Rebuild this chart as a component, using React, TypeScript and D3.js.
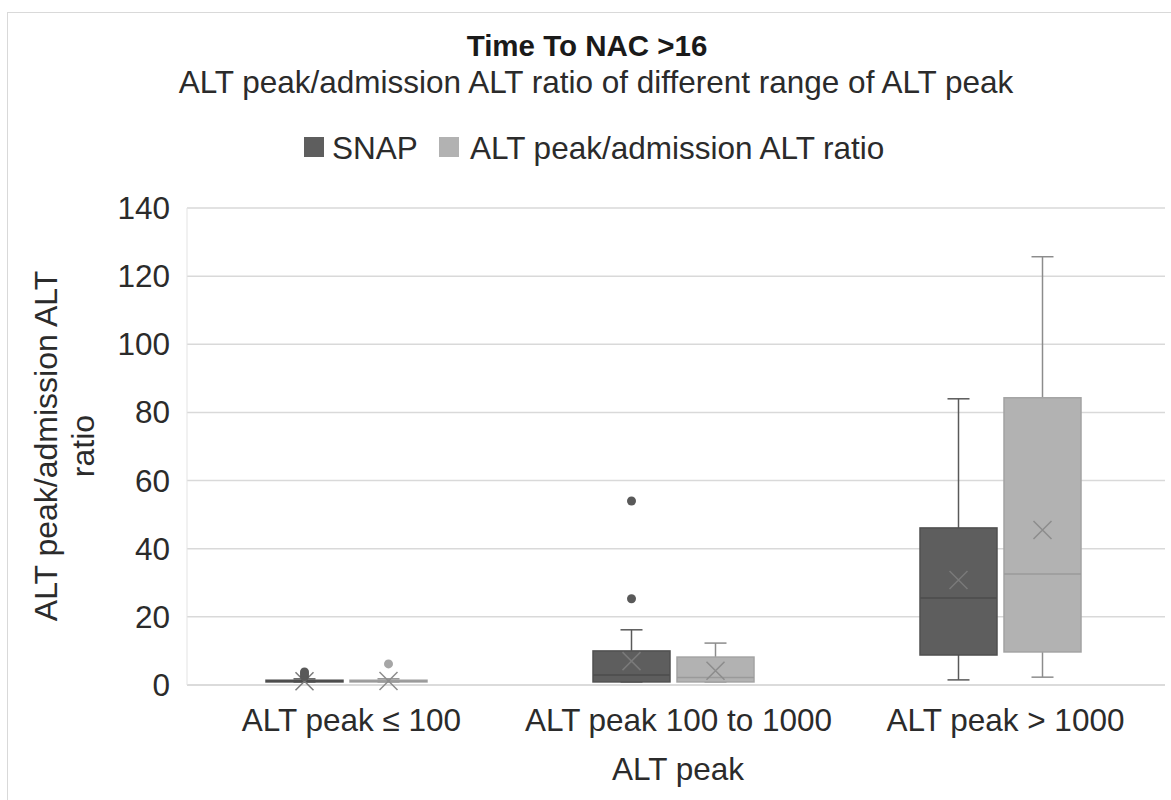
import React from "react";
import * as d3 from "d3";

const categories = ["ALT peak ≤ 100", "ALT peak 100 to 1000", "ALT peak > 1000"];
const seriesNames = ["SNAP", "ALT peak/admission ALT ratio"];
const yTicks = [0, 20, 40, 60, 80, 100, 120, 140];

const snapMin = [0.9, 0.9, 1.5];
const snapQ1 = [0.9, 0.9, 8.8];
const snapMedian = [1.1, 2.9, 25.5];
const snapQ3 = [1.4, 10.0, 46.1];
const snapMax = [1.8, 16.2, 84];
const snapMean = [1.1, 7.0, 30.8];
const snapOutliers = [[2.5, 3.2, 3.8], [25.3, 54], []];

const altMin = [0.9, 0.9, 2.3];
const altQ1 = [0.9, 0.9, 9.7];
const altMedian = [1.1, 2.2, 32.6];
const altQ3 = [1.4, 8.2, 84.3];
const altMax = [1.8, 12.3, 125.7];
const altMean = [1.2, 4.2, 45.5];
const altOutliers = [[6.2], [], []];

const W = 1171;
const H = 800;
const FONT = "'Liberation Sans', Arial, Helvetica, sans-serif";
const TXT = "#2b2b2b";

const seriesStyle = [
  { fill: "#5e5e5e", stroke: "#505050", whisker: "#595959", median: "#4c4c4c", mean: "#7a7a7a", dot: "#595959" },
  { fill: "#b2b2b2", stroke: "#a3a3a3", whisker: "#8c8c8c", median: "#9a9a9a", mean: "#8c8c8c", dot: "#a6a6a6" },
];

export default function App() {
  const y = d3.scaleLinear().domain([0, 140]).range([685, 208]);
  const x = d3.scaleBand<string>().domain(categories).range([183, 1164]).padding(0);
  const gridX0 = 187;
  const gridX1 = 1165;
  const boxW = 77;
  const offset = 42;
  const capW = 22;
  const meanR = 9;

  const series = [
    { min: snapMin, q1: snapQ1, med: snapMedian, q3: snapQ3, max: snapMax, mean: snapMean, out: snapOutliers },
    { min: altMin, q1: altQ1, med: altMedian, q3: altQ3, max: altMax, mean: altMean, out: altOutliers },
  ];

  return (
    <svg width={W} height={H} style={{ position: "absolute", left: 0, top: 0, background: "#fff" }} fontFamily={FONT}>
      <rect x={0} y={0} width={W} height={H} fill="#fff" />
      <rect x={7.5} y={12.5} width={W + 20} height={H + 20} fill="none" stroke="#d9d9d9" strokeWidth={1} />

      <text x={587} y={56} textAnchor="middle" fontSize={29.5} fontWeight="bold" fill="#1a1a1a">Time To NAC &gt;16</text>
      <text x={596} y={93} textAnchor="middle" fontSize={31.5} fill={TXT}>
        ALT peak/admission ALT ratio of different range of ALT peak
      </text>

      {/* legend */}
      <rect x={304} y={137} width={20} height={20} fill={seriesStyle[0].fill} />
      <text x={332} y={159} fontSize={31.5} fill={TXT}>{seriesNames[0]}</text>
      <rect x={439} y={137} width={20} height={20} fill={seriesStyle[1].fill} />
      <text x={470} y={159} fontSize={31.5} fill={TXT}>{seriesNames[1]}</text>

      {/* gridlines */}
      {yTicks.map((t) => (
        <line key={t} x1={gridX0} x2={gridX1} y1={y(t)} y2={y(t)} stroke={t === 0 ? "#cfcfcf" : "#d9d9d9"} strokeWidth={1.5} />
      ))}
      <line x1={gridX0} x2={gridX0} y1={y(140)} y2={y(0)} stroke="#e3e3e3" strokeWidth={1} />

      {/* y tick labels */}
      {yTicks.map((t) => (
        <text key={t} x={170} y={y(t) + 11} textAnchor="end" fontSize={31.5} fill={TXT}>{t}</text>
      ))}

      {/* y axis title */}
      <g transform="translate(57,446) rotate(-90)">
        <text x={0} y={0} textAnchor="middle" fontSize={32} fill={TXT}>ALT peak/admission ALT</text>
        <text x={0} y={37} textAnchor="middle" fontSize={32} fill={TXT}>ratio</text>
      </g>

      {/* x tick labels */}
      {categories.map((c) => (
        <text key={c} x={(x(c) as number) + x.bandwidth() / 2 + 5} y={731} textAnchor="middle" fontSize={31.5} fill={TXT}>{c}</text>
      ))}
      <text x={678} y={780} textAnchor="middle" fontSize={31.5} fill={TXT}>ALT peak</text>

      {/* boxes */}
      {series.map((s, si) => {
        const st = seriesStyle[si];
        return categories.map((c, ci) => {
          const cx = (x(c) as number) + x.bandwidth() / 2 + (si === 0 ? -offset : offset);
          const x0 = cx - boxW / 2;
          const top = y(s.q3[ci]);
          const bot = y(s.q1[ci]);
          const mx = cx;
          const my = y(s.mean[ci]);
          return (
            <g key={`${si}-${ci}`}>
              <line x1={cx} x2={cx} y1={y(s.max[ci])} y2={top} stroke={st.whisker} strokeWidth={1.5} />
              <line x1={cx - capW / 2} x2={cx + capW / 2} y1={y(s.max[ci])} y2={y(s.max[ci])} stroke={st.whisker} strokeWidth={1.5} />
              <line x1={cx} x2={cx} y1={bot} y2={y(s.min[ci])} stroke={st.whisker} strokeWidth={1.5} />
              <line x1={cx - capW / 2} x2={cx + capW / 2} y1={y(s.min[ci])} y2={y(s.min[ci])} stroke={st.whisker} strokeWidth={1.5} />
              <rect x={x0} y={top} width={boxW} height={Math.max(bot - top, 1.5)} fill={st.fill} stroke={st.stroke} strokeWidth={1.5} />
              <line x1={x0} x2={x0 + boxW} y1={y(s.med[ci])} y2={y(s.med[ci])} stroke={st.median} strokeWidth={1.5} />
              <path
                d={`M${mx - meanR},${my - meanR}L${mx + meanR},${my + meanR}M${mx - meanR},${my + meanR}L${mx + meanR},${my - meanR}`}
                stroke={st.mean}
                strokeWidth={1.5}
                fill="none"
              />
              {s.out[ci].map((v, k) => (
                <circle key={k} cx={cx} cy={y(v)} r={4.5} fill={st.dot} />
              ))}
            </g>
          );
        });
      })}
    </svg>
  );
}
